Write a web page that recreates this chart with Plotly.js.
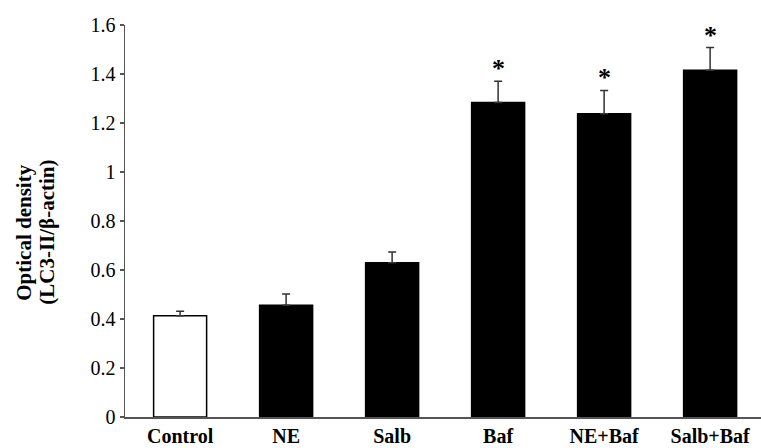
<!DOCTYPE html>
<html>
<head>
<meta charset="utf-8">
<script src="https://cdn.plot.ly/plotly-3.0.1.min.js"></script>
<style>html,body{margin:0;padding:0;background:#fff;}#chart{width:761px;height:448px;}</style>
</head>
<body>
<div id="chart"></div>
<script>
var categories = ["Control", "NE", "Salb", "Baf", "NE+Baf", "Salb+Baf"];
var values = [0.413, 0.456, 0.630, 1.284, 1.238, 1.415];
var errors = [0.019, 0.046, 0.043, 0.086, 0.095, 0.093];
var significant = [false, false, false, true, true, true];
var yTickVals = [0, 0.2, 0.4, 0.6, 0.8, 1, 1.2, 1.4, 1.6];
var yTickText = ["0", "0.2", "0.4", "0.6", "0.8", "1", "1.2", "1.4", "1.6"];
var yTitleLines = ["Optical density", "(LC3-II/β-actin)"];

var serif = "Liberation Serif";

var fills = categories.map(function(c, i){ return i === 0 ? "#ffffff" : "#000000"; });

var trace = {
  type: "bar",
  x: categories,
  y: values,
  width: 0.5,
  marker: {color: fills, line: {color: "#000000", width: 1.5}},
  error_y: {type: "data", symmetric: false, array: errors, arrayminus: errors.map(function(){return 0;}),
            color: "#333333", thickness: 1.5, width: 4},
  hoverinfo: "skip"
};

var annotations = [];
categories.forEach(function(c, i){
  if (significant[i]) {
    annotations.push({x: c, y: values[i] + errors[i], xref: "x", yref: "y", text: "<b>*</b>",
      showarrow: false, yanchor: "bottom", yshift: -4, font: {family: serif, size: 26, color: "#000"}});
  }
});
var titleShifts = [-101, -78];
yTitleLines.forEach(function(t, i){
  annotations.push({xref: "paper", yref: "paper", x: 0, y: 0.47, xanchor: "center", yanchor: "middle",
    xshift: titleShifts[i], textangle: -90, showarrow: false,
    text: "<b>" + t + "</b>", font: {family: serif, size: 21, color: "#000"}});
});

var layout = {
  width: 761, height: 448,
  margin: {l: 125, r: 0, t: 25, b: 31},
  paper_bgcolor: "#fff", plot_bgcolor: "#fff",
  showlegend: false,
  xaxis: {type: "category", range: [-0.52, 5.48], showgrid: false, zeroline: false,
    showline: true, linecolor: "#555", linewidth: 1.5, ticks: "",
    tickfont: {family: serif, size: 20, color: "#000", weight: "bold"}, ticklabelstandoff: 0},
  yaxis: {range: [0, 1.6], showgrid: false, zeroline: false, showline: true, linecolor: "#555", linewidth: 1.5,
    ticks: "outside", ticklen: 4, tickwidth: 1.2, tickcolor: "#555",
    tickvals: yTickVals, ticktext: yTickText,
    tickfont: {family: serif, size: 20, color: "#000"}},
  annotations: annotations
};

Plotly.newPlot("chart", [trace], layout, {staticPlot: true});
</script>
</body>
</html>
